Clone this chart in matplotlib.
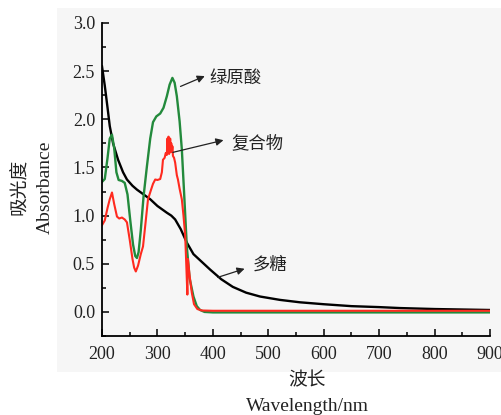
import matplotlib
matplotlib.use("Agg")
import matplotlib.pyplot as plt
from matplotlib.patches import Rectangle
from matplotlib.ticker import MultipleLocator

# polysaccharide (black)
wl_black = [200, 205, 210, 214, 220, 229, 238, 245, 255, 263, 275, 287, 300, 317, 325, 332,
            342, 353, 365, 380, 395, 415, 436, 460, 485, 521, 557, 600, 650, 700, 738,
            800, 850, 900]
abs_black = [2.55, 2.35, 2.12, 1.93, 1.75, 1.58, 1.45, 1.375, 1.31, 1.27, 1.22, 1.17, 1.10,
             1.03, 1.0, 0.96, 0.86, 0.72, 0.60, 0.52, 0.44, 0.34, 0.26, 0.20, 0.16, 0.125, 0.10,
             0.08, 0.06, 0.05, 0.04, 0.03, 0.025, 0.02]

# chlorogenic acid (green)
wl_green = [200, 205, 210, 214, 218, 222, 226, 230, 236, 241, 246, 251, 256, 260, 263, 266,
            270, 275, 281, 287, 292, 298, 305, 311, 317, 322, 327, 331, 335, 340, 344, 348,
            353, 358, 365, 371, 377, 385, 400, 500, 600, 700, 800, 900]
abs_green = [1.35, 1.38, 1.6, 1.8, 1.84, 1.7, 1.45, 1.37, 1.36, 1.34, 1.22, 0.95, 0.7, 0.58,
             0.56, 0.62, 0.85, 1.2, 1.51, 1.8, 1.97, 2.03, 2.06, 2.12, 2.24, 2.36, 2.43, 2.38,
             2.24, 1.98, 1.69, 1.25, 0.68, 0.35, 0.16, 0.06, 0.02, 0.0, -0.005, -0.005,
             -0.005, -0.005, -0.005, -0.005]

# complex (red)
wl_red = [200, 205, 210, 214, 218, 222, 227, 231, 236, 241, 245, 250, 255, 258, 261, 265,
          270, 274, 279, 283, 288, 292, 296, 300, 305, 308, 310, 313, 315, 317, 318, 319,
          320, 321, 322, 323, 324, 325, 326, 327, 328, 330, 332, 335, 337, 340, 344, 347,
          350, 352, 354, 355, 358, 362, 366, 372, 380, 400, 500, 600, 700, 800, 900]
abs_red = [0.9, 0.95, 1.08, 1.17, 1.24, 1.12, 0.99, 0.97, 0.98, 0.96, 0.93, 0.75, 0.55, 0.46,
           0.42, 0.48, 0.6, 0.68, 0.95, 1.17, 1.26, 1.33, 1.375, 1.37, 1.38, 1.45, 1.58, 1.6,
           1.65, 1.63, 1.8, 1.65, 1.82, 1.64, 1.66, 1.8, 1.66, 1.75, 1.66, 1.72, 1.62, 1.6,
           1.55, 1.42, 1.375, 1.28, 1.17, 1.0, 0.8, 0.5, 0.18, 0.55, 0.38, 0.2, 0.08, 0.03,
           0.015, 0.012, 0.012, 0.012, 0.012, 0.012, 0.012]

plt.rcParams['font.family'] = ['Liberation Serif', 'Noto Sans CJK SC']
cjk = ['Noto Sans CJK SC', 'Liberation Serif']

fig = plt.figure(figsize=(5.02, 4.15), dpi=100)
fig.patch.set_facecolor('white')
fig.add_artist(Rectangle((57 / 502, 1 - 372 / 415), 445 / 502, 364 / 415,
                         transform=fig.transFigure, facecolor='#f6f6f6',
                         edgecolor='none', zorder=-5))

ax = fig.add_axes([102 / 502, 79 / 415, 388 / 502, 313 / 415])
ax.patch.set_alpha(0)

ax.plot(wl_black, abs_black, color='black', lw=1.7)
ax.plot(wl_green, abs_green, color='#238a3c', lw=1.7)
ax.plot(wl_red, abs_red, color='#ff2a1f', lw=1.5)

ax.set_xlim(200, 900)
ax.set_ylim(-0.25, 3.0)
ax.xaxis.set_major_locator(MultipleLocator(100))
ax.xaxis.set_minor_locator(MultipleLocator(50))
ax.yaxis.set_minor_locator(MultipleLocator(0.25))
ax.set_yticks([0, 0.5, 1.0, 1.5, 2.0, 2.5, 3.0])
ax.yaxis.set_major_formatter(plt.FormatStrFormatter('%.1f'))
ax.tick_params(which='both', direction='in', width=1.1, labelsize=13,
               labelcolor='#222222')
ax.tick_params(which='major', length=5)
ax.tick_params(which='minor', length=3)
ax.tick_params(axis='x', which='major', pad=7)
ax.tick_params(axis='y', which='major', pad=5)
for s in ['top', 'right']:
    ax.spines[s].set_visible(False)
for s in ['left', 'bottom']:
    ax.spines[s].set_linewidth(1.3)

arrow = dict(arrowstyle='-|>', color='#222222', lw=0.9, mutation_scale=11)
ax.annotate('', xy=(390, 2.46), xytext=(337, 2.33), arrowprops=arrow)
ax.text(393, 2.43, '绿原酸', family=cjk, fontsize=12.5, va='center', color='#222222')
ax.annotate('', xy=(424, 1.79), xytext=(323, 1.65), arrowprops=arrow)
ax.text(433, 1.755, '复合物', family=cjk, fontsize=12.5, va='center', color='#222222')
ax.annotate('', xy=(462, 0.457), xytext=(404, 0.35), arrowprops=arrow)
ax.text(471, 0.49, '多糖', family=cjk, fontsize=12.5, va='center', color='#222222')

fig.text(20 / 502, 1 - 187 / 415, '吸光度', family=cjk, fontsize=13.5, rotation=90,
         ha='center', va='center', color='#222222')
fig.text(45 / 502, 1 - 187 / 415, 'Absorbance', fontsize=14, rotation=90,
         ha='center', va='center', color='#222222')
fig.text(307 / 502, 1 - 380 / 415, '波长', family=cjk, fontsize=13.5,
         ha='center', va='center', color='#222222')
fig.text(307 / 502, 1 - 406 / 415, 'Wavelength/nm', fontsize=14,
         ha='center', va='center', color='#222222')

fig.savefig('out.png', dpi=100)
